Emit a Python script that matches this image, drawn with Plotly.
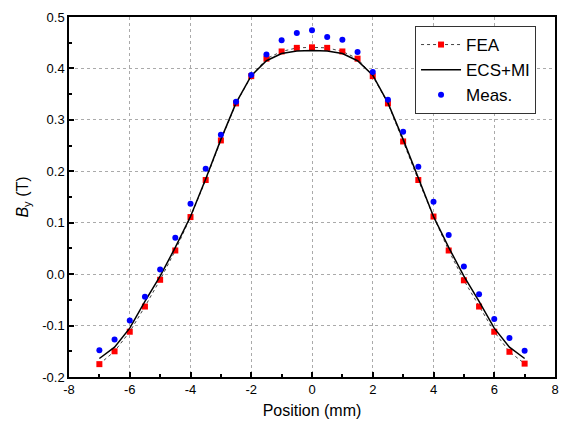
import plotly.graph_objects as go

pos = [-7, -6.5, -6, -5.5, -5, -4.5, -4, -3.5, -3, -2.5, -2, -1.5, -1, -0.5, 0,
       0.5, 1, 1.5, 2, 2.5, 3, 3.5, 4, 4.5, 5, 5.5, 6, 6.5, 7]

fea = [-0.175, -0.150, -0.112, -0.063, -0.011, 0.046, 0.111, 0.183, 0.260, 0.332,
       0.385, 0.419, 0.433, 0.440, 0.441, 0.440, 0.433, 0.419, 0.385, 0.332,
       0.258, 0.183, 0.112, 0.046, -0.012, -0.063, -0.112, -0.151, -0.174]

ecs = [-0.164, -0.142, -0.105, -0.053, -0.004, 0.052, 0.112, 0.185, 0.262, 0.333,
       0.386, 0.415, 0.429, 0.434, 0.435, 0.434, 0.429, 0.415, 0.387, 0.333,
       0.262, 0.185, 0.112, 0.052, -0.004, -0.053, -0.105, -0.142, -0.164]

meas = [-0.148, -0.127, -0.090, -0.044, 0.009, 0.071, 0.137, 0.205, 0.271, 0.335,
        0.387, 0.427, 0.455, 0.469, 0.474, 0.461, 0.456, 0.432, 0.393, 0.339,
        0.277, 0.209, 0.141, 0.076, 0.015, -0.039, -0.087, -0.124, -0.149]

x_tick_vals = [-8, -6, -4, -2, 0, 2, 4, 6, 8]
x_tick_text = ["-8", "-6", "-4", "-2", "0", "2", "4", "6", "8"]
y_tick_vals = [-0.2, -0.1, 0.0, 0.1, 0.2, 0.3, 0.4, 0.5]
y_tick_text = ["-0.2", "-0.1", "0.0", "0.1", "0.2", "0.3", "0.4", "0.5"]

FONT = "Liberation Sans, Arial"

fig = go.Figure()
fig.add_trace(go.Scatter(x=pos, y=fea, name="FEA", mode="lines+markers",
                         line=dict(color="#444444", width=1, dash="dot"),
                         marker=dict(symbol="square", size=6, color="#ff0000")))
fig.add_trace(go.Scatter(x=pos, y=ecs, name="ECS+MI", mode="lines",
                         line=dict(color="black", width=1.5)))
fig.add_trace(go.Scatter(x=pos, y=meas, name="Meas.", mode="markers",
                         marker=dict(symbol="circle", size=6, color="#0000ff")))

axis_common = dict(showline=True, linecolor="black", linewidth=1.5, mirror=True,
                   ticks="inside", ticklen=5, tickwidth=1.5, tickcolor="black",
                   showgrid=True, gridcolor="#aaaaaa", griddash="dot", gridwidth=1,
                   zeroline=False,
                   tickfont=dict(family=FONT, size=13, color="black"))

fig.update_xaxes(range=[-8, 8], tickmode="array", tickvals=x_tick_vals, ticktext=x_tick_text,
                 minor=dict(ticks="inside", ticklen=3, dtick=1, tickcolor="black", showgrid=False),
                 title=dict(text="Position (mm)", font=dict(family=FONT, size=16, color="black"), standoff=8),
                 **axis_common)
fig.update_yaxes(range=[-0.2, 0.5], tickmode="array", tickvals=y_tick_vals, ticktext=y_tick_text,
                 minor=dict(ticks="inside", ticklen=3, dtick=0.05, tickcolor="black", showgrid=False),
                 title=dict(text="<i>B</i><sub>y</sub> (T)", font=dict(family=FONT, size=16, color="black"), standoff=10),
                 **axis_common)

fig.update_layout(
    width=563, height=429,
    margin=dict(l=69, r=4, t=17, b=52),
    paper_bgcolor="white", plot_bgcolor="white",
    font=dict(family=FONT, color="black"),
    legend=dict(x=0.712, y=0.975, xanchor="left", yanchor="top",
                bgcolor="white", bordercolor="#333333", borderwidth=1,
                font=dict(family=FONT, size=17, color="black"),
                tracegroupgap=0, itemwidth=40),
    showlegend=True,
)

fig.write_html("out.html")
